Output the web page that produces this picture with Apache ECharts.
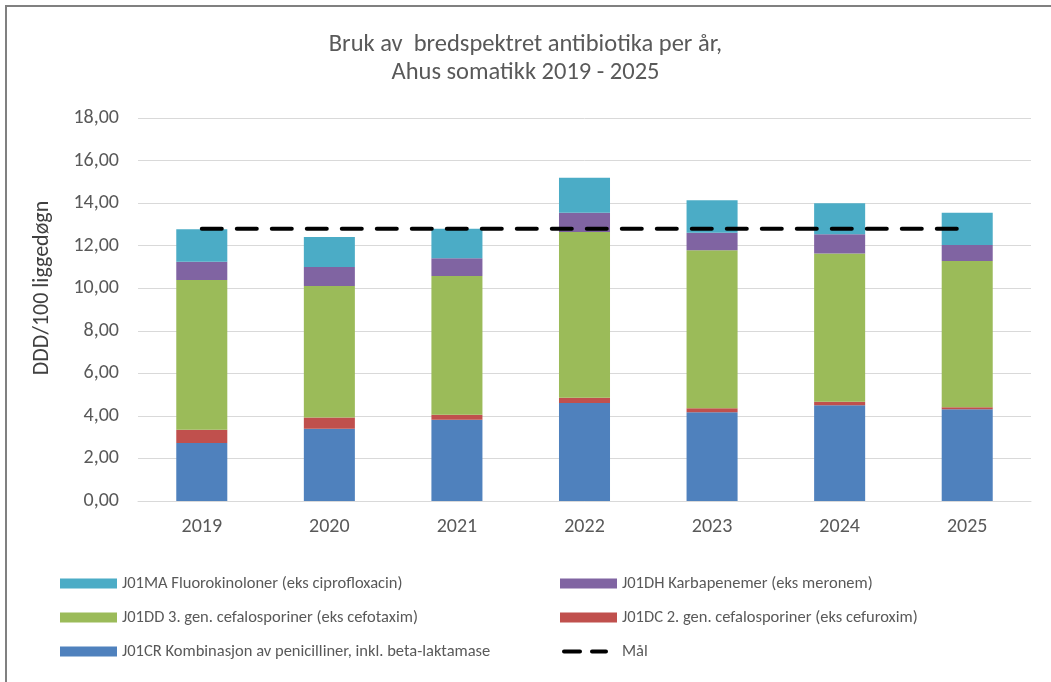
<!DOCTYPE html>
<html>
<head>
<meta charset="utf-8">
<script src="https://cdn.jsdelivr.net/npm/echarts@6/dist/echarts.min.js"></script>
<style>
html, body { margin: 0; padding: 0; background: #fff; }
#chart { width: 1051px; height: 682px; }
</style>
</head>
<body>
<div id="chart"></div>
<script>
var years = ['2019', '2020', '2021', '2022', '2023', '2024', '2025'];
// DDD/100 liggedøgn per gruppe, nederst til øverst i stabelen
var kombinasjon = [2.72, 3.39, 3.82, 4.61, 4.17, 4.50, 4.31];
var cef2 = [0.63, 0.53, 0.23, 0.24, 0.19, 0.17, 0.10];
var cef3 = [7.04, 6.19, 6.53, 7.79, 7.43, 6.96, 6.87];
var karbapenemer = [0.86, 0.89, 0.83, 0.91, 0.82, 0.91, 0.75];
var fluoro = [1.52, 1.41, 1.39, 1.64, 1.53, 1.45, 1.52];
var maal = [12.8, 12.8, 12.8, 12.8, 12.8, 12.8, 12.8];

var names = {
    fluoro: 'J01MA Fluorokinoloner (eks ciprofloxacin)',
    karba: 'J01DH Karbapenemer (eks meronem)',
    cef3: 'J01DD 3. gen. cefalosporiner (eks cefotaxim)',
    cef2: 'J01DC 2. gen. cefalosporiner (eks cefuroxim)',
    komb: 'J01CR Kombinasjon av penicilliner, inkl. beta-laktamase',
    maal: 'Mål'
};

var font = 'Carlito, "Liberation Sans Narrow", "Liberation Sans", sans-serif';
var textColor = '#595959';
// to korte streker som legend-ikon for mål-linjen
var dashIcon = 'path://M0,0M4,3h16a2,2 0 0 1 0,4h-16a2,2 0 0 1 0,-4zM32,3h14a2,2 0 0 1 0,4h-14a2,2 0 0 1 0,-4zM57,10';

function barSeries(name, data, color) {
    return {
        name: name,
        type: 'bar',
        stack: 'total',
        barWidth: '40%',
        data: data,
        itemStyle: { color: color },
        emphasis: { disabled: true }
    };
}

var legendBase = {
    orient: 'vertical',
    top: 575,
    padding: 0,
    itemWidth: 57,
    itemHeight: 10,
    itemGap: 17,
    itemTextGap: 5,
    textStyle: { fontFamily: font, fontSize: 16.5, color: textColor }
};

var myChart = echarts.init(document.getElementById('chart'));

var option = {
    animation: false,
    textStyle: { fontFamily: font },
    title: {
        text: 'Bruk av  bredspektret antibiotika per år,\nAhus somatikk 2019 - 2025',
        left: 'center',
        top: 31,
        padding: [0, 0, 0, 22],
        textStyle: {
            fontFamily: font,
            fontSize: 24.5,
            fontWeight: 'normal',
            color: textColor,
            lineHeight: 28
        }
    },
    grid: { left: 138, right: 20, top: 118, bottom: 181 },
    legend: [
        echarts.util.merge({
            left: 60,
            icon: 'rect',
            data: [names.fluoro, names.cef3, names.komb]
        }, legendBase),
        echarts.util.merge({
            left: 560,
            data: [
                { name: names.karba, icon: 'rect' },
                { name: names.cef2, icon: 'rect' },
                { name: names.maal, icon: dashIcon, itemStyle: { color: '#000', borderWidth: 0 } }
            ]
        }, legendBase)
    ],
    xAxis: {
        type: 'category',
        data: years,
        axisLine: { lineStyle: { color: '#d9d9d9' } },
        axisTick: { show: false },
        axisLabel: { fontSize: 20, color: textColor, margin: 16 }
    },
    yAxis: {
        type: 'value',
        min: 0,
        max: 18,
        interval: 2,
        axisLine: { show: false },
        axisTick: { show: false },
        splitLine: { lineStyle: { color: '#d9d9d9' } },
        axisLabel: {
            fontSize: 20,
            color: textColor,
            margin: 19,
            formatter: function (v) { return v.toFixed(2).replace('.', ','); }
        }
    },
    graphic: [
        {
            type: 'text',
            x: 42,
            y: 288,
            rotation: Math.PI / 2,
            style: {
                text: 'DDD/100 liggedøgn',
                fontFamily: font,
                fontSize: 22,
                fill: '#404040',
                textAlign: 'center',
                textVerticalAlign: 'middle'
            }
        },
        {
            type: 'polyline',
            shape: { points: [[6, 682], [6, 6], [1051, 6]] },
            style: { fill: null, stroke: '#808080', lineWidth: 2 }
        }
    ],
    series: [
        barSeries(names.komb, kombinasjon, '#4F81BD'),
        barSeries(names.cef2, cef2, '#C0504D'),
        barSeries(names.cef3, cef3, '#9BBB59'),
        barSeries(names.karba, karbapenemer, '#8064A2'),
        barSeries(names.fluoro, fluoro, '#4BACC6'),
        {
            name: names.maal,
            type: 'line',
            data: maal,
            symbol: 'none',
            z: 5,
            lineStyle: { color: '#000', width: 4, type: [20, 15], cap: 'round' },
            itemStyle: { color: '#000' },
            emphasis: { disabled: true }
        }
    ]
};

myChart.setOption(option);
</script>
</body>
</html>
